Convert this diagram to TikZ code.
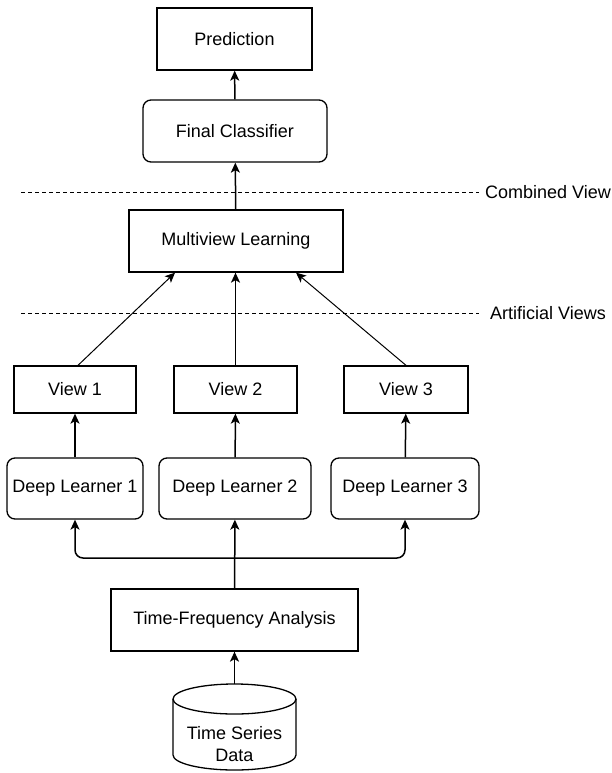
\documentclass[tikz,border=0pt]{standalone}
\usepackage{fontspec}
\setmainfont{Liberation Sans}
\usetikzlibrary{shapes, arrows.meta, positioning, calc}

\begin{document}
\begin{tikzpicture}[
  x=1pt, y=-1pt,
  font=\fontsize{18}{22}\selectfont,
  box/.style={draw, line width=1.3pt, minimum height=62pt, align=center, inner sep=0pt},
  rbox/.style={box, rounded corners=8pt},
  vbox/.style={box, minimum height=47pt},
  dbline/.style={line width=1.3pt},
  arr/.style={-{Stealth[length=10pt, width=9pt, inset=2.5pt]}, line width=1.5pt},
  sep/.style={dashed, dash pattern=on 4pt off 3pt, line width=1pt},
  lbl/.style={anchor=west, inner sep=0pt}
]
  \useasboundingbox (0,0) rectangle (611,773);

  \node[box, minimum width=155pt] (pred) at (234.5,39) {Prediction};
  \node[rbox, minimum width=184pt] (final) at (235,131) {Final Classifier};
  \node[box, minimum width=214pt] (multi) at (236,241) {Multiview Learning};

  \node[vbox, minimum width=122pt] (v1) at (75,389.5) {View 1};
  \node[vbox, minimum width=123pt] (v2) at (235.5,389.5) {View 2};
  \node[vbox, minimum width=124pt] (v3) at (406,389.5) {View 3};

  \node[rbox, minimum width=136pt, minimum height=61pt] (dl1) at (75,488.5) {Deep Learner 1};
  \node[rbox, minimum width=152pt, minimum height=61pt] (dl2) at (235,488.5) {Deep Learner 2};
  \node[rbox, minimum width=148pt, minimum height=61pt] (dl3) at (405,488.5) {Deep Learner 3};

  \node[box, minimum width=247pt] (tfa) at (234.5,620) {Time-Frequency Analysis};

  % data store
  \draw[dbline] (234.5,699) ellipse [x radius=61.5pt, y radius=15pt];
  \draw[dbline] (173,699) -- (173,755)
    arc[start angle=180, end angle=360, x radius=61.5pt, y radius=15pt] -- (296,699);
  \node[align=center, inner sep=0pt] (data) at (234.5,744) {Time Series\\Data};
  \coordinate (datatop) at (234.5,684);

  % view separators
  \node[lbl] (cv) at (485,192) {Combined View};
  \node[lbl] (av) at (490,313) {Artificial Views};
  \draw[sep] (21,192) -- (479,192);
  \draw[sep] (21,313) -- (479,313);

  \coordinate (split) at (234.5,558);

  \draw[arr] (datatop) -- (tfa);
  \draw[arr] (tfa) -- (dl2);
  \draw[arr, rounded corners=8pt] (split) -| (dl1);
  \draw[arr, rounded corners=8pt] (split) -| (dl3);

  \draw[arr] (dl1) -- (v1);
  \draw[arr] (dl2) -- (v2);
  \draw[arr] (dl3) -- (v3);

  \draw[arr, line width=1pt] ([xshift=3pt]v1.north) -- ([xshift=-61pt]multi.south);
  \draw[arr] (v2) -- (v2 |- multi.south);
  \draw[arr, line width=1pt] (v3.north) -- ([xshift=60pt]multi.south);

  \draw[arr] (multi) -- (final);
  \draw[arr] (final) -- (pred);
\end{tikzpicture}
\end{document}
